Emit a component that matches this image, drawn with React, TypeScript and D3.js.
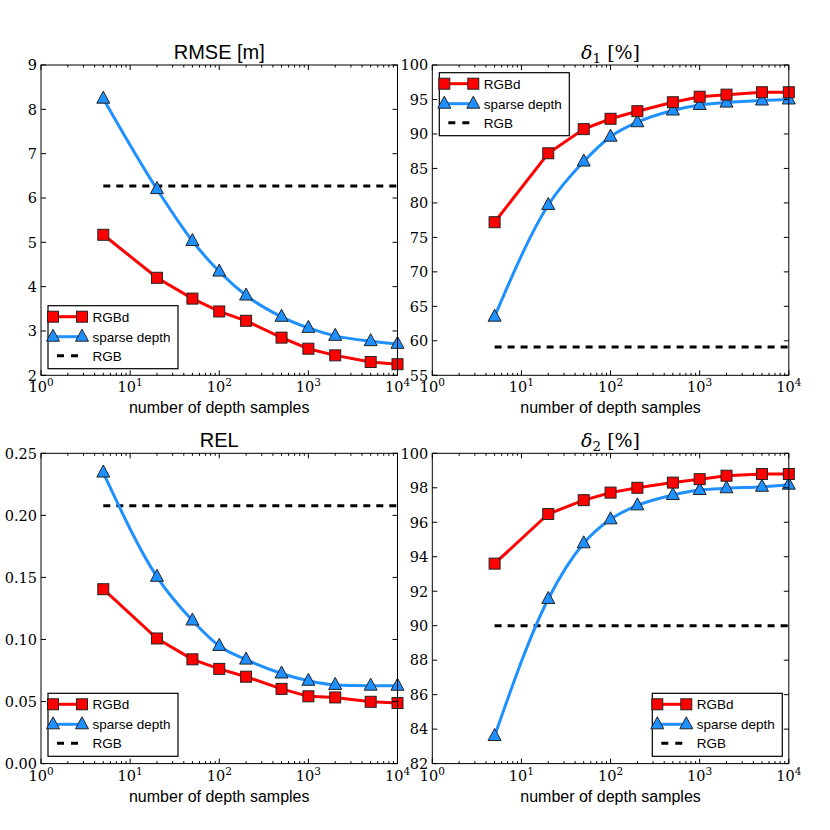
import React from "react";
import * as d3 from "d3";

const xVals = [5, 20, 50, 100, 200, 500, 1000, 2000, 5000, 10000];

const rmseRGBd = [5.17, 4.2, 3.73, 3.44, 3.23, 2.85, 2.6, 2.45, 2.3, 2.25];
const rmseSparse = [8.24, 6.2, 5.03, 4.34, 3.8, 3.32, 3.07, 2.89, 2.77, 2.71];
const rmseRGB = 6.27;

const d1RGBd = [77.2, 87.2, 90.7, 92.2, 93.3, 94.6, 95.4, 95.7, 96.05, 96.05];
const d1Sparse = [63.5, 79.7, 86.0, 89.6, 91.7, 93.4, 94.2, 94.55, 94.85, 95.0];
const d1RGB = 59.1;

const relRGBd = [0.1405, 0.1008, 0.084, 0.0763, 0.07, 0.0602, 0.0542, 0.0533, 0.0498, 0.0488];
const relSparse = [0.2345, 0.1505, 0.1153, 0.0948, 0.0838, 0.0726, 0.0667, 0.0634, 0.0628, 0.0627];
const relRGB = 0.2078;

const d2RGBd = [93.6, 96.48, 97.28, 97.72, 98.0, 98.3, 98.5, 98.7, 98.8, 98.8];
const d2Sparse = [83.6, 91.55, 94.78, 96.17, 96.98, 97.58, 97.87, 97.97, 98.06, 98.18];
const d2RGB = 90.0;

const seriesNames = ["RGBd", "sparse depth", "RGB"];
const xTickExps = [0, 1, 2, 3, 4];

const RED = "#ff0000";
const BLUE = "#1e90ff";
const SERIF = "DejaVu Serif, serif";
const SANS = "Liberation Sans, Arial, sans-serif";

type PanelProps = {
  left: number;
  top: number;
  width: number;
  height: number;
  title: React.ReactNode;
  yDomain: [number, number];
  yStep: number;
  yFmt: (v: number) => string;
  rgbd: number[];
  sparse: number[];
  rgb: number;
  legend: { x: number; y: number };
};

const Square = ({ x, y }: { x: number; y: number }) => (
  <rect x={x - 5.5} y={y - 5.5} width={11} height={11} fill={RED} stroke="#222" strokeWidth={1} />
);

const Triangle = ({ x, y }: { x: number; y: number }) => (
  <path d={`M${x},${y - 7.5}L${x + 6.5},${y + 4.5}L${x - 6.5},${y + 4.5}Z`} fill={BLUE} stroke="#222" strokeWidth={1} />
);

const Panel = (p: PanelProps) => {
  const x = d3.scaleLog().domain([1, 10000]).range([p.left, p.left + p.width]);
  const y = d3.scaleLinear().domain(p.yDomain).range([p.top + p.height, p.top]);
  const bottom = p.top + p.height;
  const right = p.left + p.width;

  const yTicks = d3.range(p.yDomain[0], p.yDomain[1] + p.yStep / 2, p.yStep);
  const minor: number[] = [];
  for (let e = 0; e < 4; e++) for (let m = 2; m <= 9; m++) minor.push(m * Math.pow(10, e));

  const lineRed = d3.line<number>().x((_, i) => x(xVals[i])).y((d) => y(d));
  const lineBlue = d3
    .line<number>()
    .x((_, i) => x(xVals[i]))
    .y((d) => y(d))
    .curve(d3.curveMonotoneX);

  const lg = p.legend;
  const rows = [lg.y + 11, lg.y + 31, lg.y + 50];

  return (
    <g>
      {/* reference RGB line */}
      <line
        x1={x(xVals[0])}
        x2={x(xVals[xVals.length - 1])}
        y1={y(p.rgb)}
        y2={y(p.rgb)}
        stroke="#000"
        strokeWidth={3}
        strokeDasharray="7,6"
      />
      <path d={lineBlue(p.sparse) || ""} fill="none" stroke={BLUE} strokeWidth={3} />
      <path d={lineRed(p.rgbd) || ""} fill="none" stroke={RED} strokeWidth={3} />
      {p.sparse.map((v, i) => (
        <Triangle key={"t" + i} x={x(xVals[i])} y={y(v)} />
      ))}
      {p.rgbd.map((v, i) => (
        <Square key={"s" + i} x={x(xVals[i])} y={y(v)} />
      ))}

      {/* frame */}
      <rect x={p.left} y={p.top} width={p.width} height={p.height} fill="none" stroke="#000" strokeWidth={1} />

      {/* x ticks */}
      {xTickExps.map((e) => {
        const xx = x(Math.pow(10, e));
        return (
          <g key={"xt" + e}>
            <line x1={xx} x2={xx} y1={bottom} y2={bottom - 5} stroke="#000" />
            <line x1={xx} x2={xx} y1={p.top} y2={p.top + 5} stroke="#000" />
            <text x={xx} y={bottom + 17} fontFamily={SERIF} fontSize={14.5} textAnchor="middle">
              10<tspan fontSize={10.5} dy={-6}>{e}</tspan>
            </text>
          </g>
        );
      })}
      {minor.map((m) => {
        const xx = x(m);
        return (
          <g key={"mn" + m}>
            <line x1={xx} x2={xx} y1={bottom} y2={bottom - 2.5} stroke="#000" />
            <line x1={xx} x2={xx} y1={p.top} y2={p.top + 2.5} stroke="#000" />
          </g>
        );
      })}

      {/* y ticks */}
      {yTicks.map((t) => {
        const yy = y(t);
        return (
          <g key={"yt" + t}>
            <line x1={p.left} x2={p.left + 5} y1={yy} y2={yy} stroke="#000" />
            <line x1={right} x2={right - 5} y1={yy} y2={yy} stroke="#000" />
            <text x={p.left - 4} y={yy + 5.3} fontFamily={SERIF} fontSize={14.5} textAnchor="end">
              {p.yFmt(t)}
            </text>
          </g>
        );
      })}

      {/* title and x label */}
      <text x={(p.left + right) / 2} y={p.top - 6} textAnchor="middle" fontSize={20}>
        {p.title}
      </text>
      <text x={(p.left + right) / 2} y={bottom + 38} textAnchor="middle" fontFamily={SANS} fontSize={16}>
        number of depth samples
      </text>

      {/* legend */}
      <rect x={lg.x} y={lg.y} width={130} height={63} fill="#fff" stroke="#000" strokeWidth={1.2} />
      <line x1={lg.x + 5} x2={lg.x + 34} y1={rows[0]} y2={rows[0]} stroke={RED} strokeWidth={3} />
      <Square x={lg.x + 5} y={rows[0]} />
      <Square x={lg.x + 34} y={rows[0]} />
      <line x1={lg.x + 5} x2={lg.x + 34} y1={rows[1]} y2={rows[1]} stroke={BLUE} strokeWidth={3} />
      <Triangle x={lg.x + 5} y={rows[1]} />
      <Triangle x={lg.x + 34} y={rows[1]} />
      <line
        x1={lg.x + 9}
        x2={lg.x + 30}
        y1={rows[2]}
        y2={rows[2]}
        stroke="#000"
        strokeWidth={3}
        strokeDasharray="7,7"
      />
      {seriesNames.map((n, i) => (
        <text key={n} x={lg.x + 44.5} y={rows[i] + 5} fontFamily={SANS} fontSize={13.5}>
          {n}
        </text>
      ))}
    </g>
  );
};

const DeltaTitle = ({ sub }: { sub: string }) => (
  <tspan fontFamily={SERIF} fontSize={19}>
    <tspan fontStyle="italic">δ</tspan>
    <tspan fontSize={13.5} dy={4}>{sub}</tspan>
    <tspan dy={-4}> [%]</tspan>
  </tspan>
);

const App = () => {
  const L1 = 41;
  const L2 = 432.3;
  const W = 356.5;
  const T1 = 65;
  const T2 = 453.3;
  const H = 310.3;
  return (
    <svg width={830} height={830} style={{ position: "absolute", left: 0, top: 0, background: "#fff" }}>
      <rect width={830} height={830} fill="#fff" />
      <Panel
        left={L1}
        top={T1}
        width={W}
        height={H}
        title={<tspan fontFamily={SANS}>RMSE [m]</tspan>}
        yDomain={[2, 9]}
        yStep={1}
        yFmt={(v) => String(v)}
        rgbd={rmseRGBd}
        sparse={rmseSparse}
        rgb={rmseRGB}
        legend={{ x: 48, y: 305.7 }}
      />
      <Panel
        left={L2}
        top={T1}
        width={W}
        height={H}
        title={<DeltaTitle sub="1" />}
        yDomain={[55, 100]}
        yStep={5}
        yFmt={(v) => String(v)}
        rgbd={d1RGBd}
        sparse={d1Sparse}
        rgb={d1RGB}
        legend={{ x: 439.3, y: 72.7 }}
      />
      <Panel
        left={L1}
        top={T2}
        width={W}
        height={H}
        title={<tspan fontFamily={SANS}>REL</tspan>}
        yDomain={[0, 0.25]}
        yStep={0.05}
        yFmt={(v) => v.toFixed(2)}
        rgbd={relRGBd}
        sparse={relSparse}
        rgb={relRGB}
        legend={{ x: 48, y: 693.3 }}
      />
      <Panel
        left={L2}
        top={T2}
        width={W}
        height={H}
        title={<DeltaTitle sub="2" />}
        yDomain={[82, 100]}
        yStep={2}
        yFmt={(v) => String(v)}
        rgbd={d2RGBd}
        sparse={d2Sparse}
        rgb={d2RGB}
        legend={{ x: 652.3, y: 693.3 }}
      />
    </svg>
  );
};

export default App;
